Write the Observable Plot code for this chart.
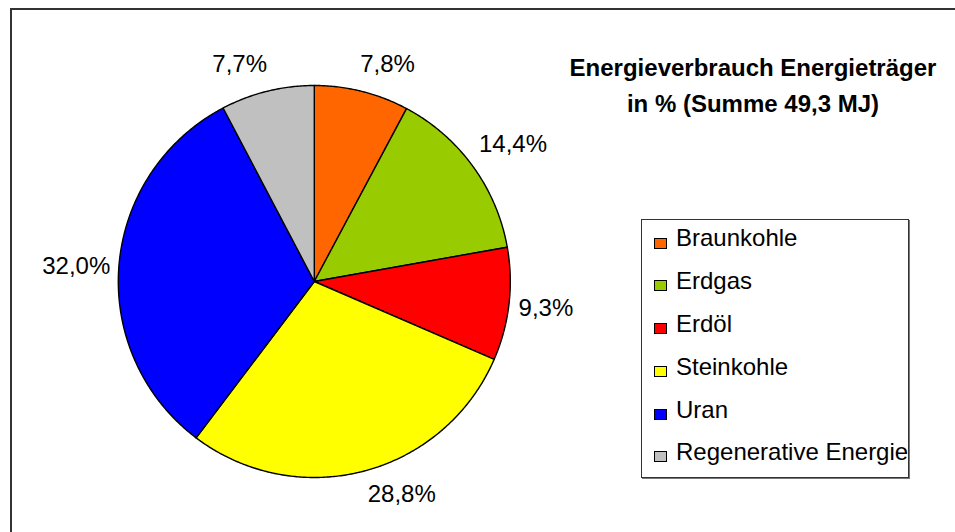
<!DOCTYPE html>
<html>
<head>
<meta charset="utf-8">
<script src="https://cdn.jsdelivr.net/npm/d3@7"></script>
<script src="https://cdn.jsdelivr.net/npm/@observablehq/plot@0.6"></script>
<style>
  html, body { margin: 0; padding: 0; background: #fff; }
  #wrap { position: relative; width: 955px; height: 532px; overflow: hidden; font-family: "Liberation Sans", Arial, sans-serif; }
  #frame { position: absolute; left: 10px; top: 8px; width: 1100px; height: 700px; border: 2px solid #333; box-sizing: border-box; }
  #chart { position: absolute; left: 0; top: 0; }
  #title { position: absolute; left: 553px; top: 50px; width: 400px; text-align: center; font-weight: bold; font-size: 24px; line-height: 36px; color: #000; }
  #legend { position: absolute; left: 641px; top: 219px; width: 268px; height: 259px; border: 1px solid #333; box-sizing: border-box; box-shadow: 1px 1px 0 #777; background: #fff; }
  .row { position: absolute; left: 0; width: 100%; height: 42.8px; }
  .sw { position: absolute; left: 12px; width: 13px; height: 11px; border: 1px solid #000; box-sizing: border-box; }
  .lt { position: absolute; left: 34px; top: 0; font-size: 24px; line-height: 42.8px; white-space: nowrap; color: #000; }
</style>
</head>
<body>
<div id="wrap">
  <div id="frame"></div>
  <div id="chart"></div>
  <div id="title"></div>
  <div id="legend"></div>
</div>
<script>
const categories = ["Braunkohle", "Erdgas", "Erdöl", "Steinkohle", "Uran", "Regenerative Energie"];
const values = [7.8, 14.4, 9.3, 28.8, 32.0, 7.7];
const labels = ["7,8%", "14,4%", "9,3%", "28,8%", "32,0%", "7,7%"];
const colors = ["#FF6600", "#99CC00", "#FF0000", "#FFFF00", "#0000FF", "#C0C0C0"];
const titleLines = ["Energieverbrauch Energieträger", "in % (Summe 49,3 MJ)"];

// Slice geometry derived from the values (angles clockwise from 12 o'clock)
const total = d3.sum(values);
let acc = 0;
const slices = categories.map((name, i) => {
  const a0 = acc / total * 2 * Math.PI;
  acc += values[i];
  const a1 = acc / total * 2 * Math.PI;
  return {name, label: labels[i], a0, a1, mid: (a0 + a1) / 2};
});
const pts = [];
for (const s of slices) {
  pts.push({name: s.name, x: 0, y: 0});
  const n = Math.max(2, Math.ceil((s.a1 - s.a0) / (Math.PI / 360)));
  for (let k = 0; k <= n; k++) {
    const a = s.a0 + (s.a1 - s.a0) * k / n;
    pts.push({name: s.name, x: Math.sin(a), y: Math.cos(a)});
  }
  pts.push({name: s.name, x: 0, y: 0});
}

const lr = 1.07;
const labelData = slices.map(s => {
  const sn = Math.sin(s.mid), cs = Math.cos(s.mid);
  return {
    text: s.label,
    x: lr * sn,
    y: lr * cs,
    h: sn > 0.1 ? "start" : sn < -0.1 ? "end" : "middle",
    v: cs > 0.3 ? "bottom" : cs < -0.3 ? "top" : "middle"
  };
});
const combos = Array.from(new Set(labelData.map(d => d.h + "|" + d.v)));
const textMarks = combos.map(c => {
  const [h, v] = c.split("|");
  const dx = v === "middle" ? (h === "start" ? -4 : h === "end" ? 5 : 0) : (v === "bottom" && h === "start" ? -5 : v === "bottom" && h === "end" ? 3 : 0);
  const dy = v === "bottom" ? -6 : v === "middle" ? 2 : 1;
  return Plot.text(labelData.filter(d => d.h === h && d.v === v), {
    x: "x", y: "y", text: "text", textAnchor: h, lineAnchor: v, fontSize: 24, fill: "#000", dx, dy
  });
});

const R = 196, cx = 313.8, cy = 281;
const plot = Plot.plot({
  width: 955,
  height: 532,
  margin: 0,
  style: {fontFamily: "'Liberation Sans', Arial, sans-serif", background: "transparent", overflow: "visible"},
  x: {domain: [-1, 1], range: [cx - R, cx + R], axis: null},
  y: {domain: [-1, 1], range: [cy + R, cy - R], axis: null},
  color: {type: "ordinal", domain: categories, range: colors},
  marks: [
    Plot.line(pts, {x: "x", y: "y", z: "name", fill: "name", stroke: "#000", strokeWidth: 1.4, curve: "linear", strokeLinejoin: "round"}),
    ...textMarks
  ]
});
document.getElementById("chart").appendChild(plot);

document.getElementById("title").innerHTML = titleLines.map(t => `<div>${t}</div>`).join("");

const legend = document.getElementById("legend");
const rowH = 42.8, firstBaseline = 27, rowBaseline = 29.7;
categories.forEach((name, i) => {
  const row = document.createElement("div");
  row.className = "row";
  row.style.top = (firstBaseline - rowBaseline + i * rowH) + "px";
  const sw = document.createElement("div");
  sw.className = "sw";
  sw.style.background = colors[i];
  sw.style.top = (rowBaseline - 9.5) + "px";
  const lt = document.createElement("span");
  lt.className = "lt";
  lt.textContent = name;
  row.appendChild(sw);
  row.appendChild(lt);
  legend.appendChild(row);
});
</script>
</body>
</html>
